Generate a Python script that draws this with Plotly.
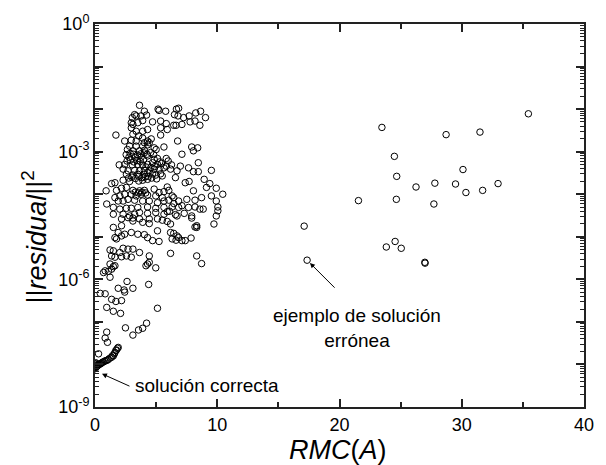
import plotly.graph_objects as go

# RMC(A) values and log10(||residual||^2) for each solution, grouped by region

# main cloud of solutions (RMC < ~11)
cloud_rmc = [
    3.64, 4.04, 5.16, 5.24, 5.78, 6.66, 6.84, 6.50, 6.79, 7.25, 7.70, 8.24, 8.64, 9.04,
    3.24, 3.05, 3.37, 3.77, 4.22, 4.71, 5.37, 5.83, 6.44, 6.63, 7.11, 7.78, 8.18, 8.58,
    2.97, 3.10, 3.50, 3.90, 2.97, 3.37, 3.90, 4.30, 5.37, 5.91,
    1.71, 3.10, 3.58, 5.37,
    2.43, 2.97, 3.37, 4.04, 4.44, 4.30, 6.76,
    2.83, 3.37, 3.90, 4.30, 4.84, 5.64, 7.91, 8.40, 8.05,
    3.10, 3.64, 4.04, 7.11,
    2.78, 3.29, 3.77, 4.30, 4.84, 5.11, 5.83, 5.99,
    1.98, 2.43, 3.05, 3.50, 3.90, 4.30, 4.71, 5.11, 5.45, 5.83, 6.26, 6.98, 7.65, 8.45,
    2.30, 2.70, 3.24, 3.64, 4.04, 4.44, 4.84, 5.24, 5.64, 6.18, 6.71, 8.05, 8.45, 9.52,
    2.57, 3.10, 3.50, 4.04, 4.30, 4.71, 4.97, 5.37, 6.58, 8.93,
    1.36, 1.63, 2.30, 2.83, 3.58, 3.90, 4.30, 5.91, 7.38, 7.70, 9.39,
    0.91, 1.76, 2.17, 2.57, 3.10, 3.64, 4.04, 4.84, 5.24, 5.64, 6.04, 6.44, 8.05, 9.12, 9.92,
    1.63, 2.03, 2.43, 2.97, 3.37, 3.77, 4.30, 4.97, 5.51, 6.31, 6.84, 7.51, 8.18, 8.72, 9.52, 10.45,
    1.90, 2.30, 2.70, 3.24, 3.90, 4.44, 5.11, 5.64, 6.04, 7.11, 7.65, 8.18, 8.58, 8.85, 9.92, 10.05,
    0.96, 1.50, 2.03, 2.57, 2.97, 3.50, 4.30, 4.97, 5.64, 6.31, 6.84, 7.91,
    1.50, 2.30, 2.83, 3.24, 3.64, 4.30, 4.97, 5.64, 5.91, 6.58, 10.05,
    2.17, 2.70, 3.10, 3.64, 4.44, 5.11, 5.51, 6.18, 6.71, 7.91, 8.32, 8.18, 9.92,
    1.50, 2.17, 3.10, 3.90, 4.44, 5.91, 9.73,
    1.90, 2.43, 2.97, 3.50, 4.04, 5.11, 6.18, 6.44, 6.71, 7.38, 7.86, 8.32,
    1.63, 1.76, 2.17, 4.30, 4.71, 5.24, 6.31, 6.63, 6.84, 7.11,
    1.23, 1.50, 2.03, 2.30, 2.70, 3.10, 3.64, 4.44, 6.18, 8.32,
    1.36, 1.63, 2.17, 2.57, 2.97,
    # denser core between 1e-3 and 1e-4
    2.62, 2.90, 3.17, 3.44, 3.71, 3.97, 4.17, 4.57, 4.90, 5.30, 2.75, 3.02, 3.31, 3.58,
    3.84, 4.11, 4.37, 4.64, 5.04, 5.50, 2.55, 2.88, 3.15, 3.47, 3.75, 4.02, 4.26, 4.55,
    4.80, 3.30, 3.55, 3.85, 4.15, 2.65, 3.90, 4.60, 5.00, 6.10, 6.45, 7.30,
]
cloud_logres = [
    -1.91, -2.05, -2.00, -2.03, -2.05, -2.00, -1.98, -2.13, -2.16, -2.20, -2.16, -2.09, -2.05, -2.20,
    -2.13, -2.20, -2.16, -2.16, -2.14, -2.30, -2.28, -2.34, -2.38, -2.38, -2.36, -2.30, -2.28, -2.38,
    -2.32, -2.36, -2.32, -2.27, -2.44, -2.52, -2.52, -2.48, -2.44, -2.48,
    -2.61, -2.59, -2.63, -2.61,
    -2.75, -2.73, -2.75, -2.79, -2.79, -2.75, -2.75,
    -2.87, -2.87, -2.87, -2.84, -2.91, -2.89, -2.89, -2.91, -2.98,
    -2.98, -2.98, -2.97, -3.06,
    -3.13, -3.14, -3.13, -3.10, -3.18, -3.16, -3.16, -3.22,
    -3.31, -3.30, -3.31, -3.30, -3.31, -3.30, -3.26, -3.30, -3.28, -3.34, -3.31, -3.34, -3.38, -3.26,
    -3.41, -3.45, -3.44, -3.45, -3.44, -3.45, -3.41, -3.41, -3.38, -3.41, -3.45, -3.47, -3.47, -3.44,
    -3.53, -3.55, -3.53, -3.53, -3.49, -3.52, -3.55, -3.52, -3.61, -3.65,
    -3.75, -3.73, -3.67, -3.70, -3.69, -3.67, -3.65, -3.83, -3.73, -3.70, -3.75,
    -3.92, -3.91, -3.86, -3.84, -3.91, -3.92, -3.91, -3.88, -3.96, -3.94, -3.91, -4.08, -3.92, -3.84, -3.86,
    -4.08, -4.04, -4.00, -4.00, -4.04, -4.00, -4.02, -4.04, -4.08, -4.04, -4.16, -4.12, -4.14, -4.08, -4.04, -4.00,
    -4.16, -4.16, -4.12, -4.14, -4.16, -4.16, -4.20, -4.16, -4.14, -4.27, -4.31, -4.30, -4.35, -4.35, -4.16, -4.30,
    -4.23, -4.31, -4.35, -4.33, -4.33, -4.31, -4.30, -4.33, -4.31, -4.30, -4.31, -4.51,
    -4.47, -4.47, -4.51, -4.47, -4.43, -4.45, -4.43, -4.47, -4.41, -4.48, -4.39,
    -4.58, -4.55, -4.56, -4.58, -4.58, -4.58, -4.61, -4.70, -4.51, -4.56, -4.74, -4.77, -4.51,
    -4.78, -4.74, -4.63, -4.66, -4.69, -4.64, -4.70,
    -4.90, -4.94, -4.90, -4.94, -4.95, -4.86, -4.90, -4.92, -4.98, -5.09, -5.03, -4.78,
    -5.02, -5.05, -4.98, -5.02, -5.09, -5.11, -5.05, -5.08, -5.02, -5.09,
    -5.31, -5.33, -5.37, -5.27, -5.29, -5.29, -5.37, -5.45, -5.39, -5.45,
    -5.45, -5.48, -5.47, -5.45, -5.48,
    -3.22, -3.20, -3.24, -3.21, -3.23, -3.19, -3.36, -3.37, -3.35, -3.24, -3.62, -3.60, -3.63, -3.58,
    -3.61, -3.59, -3.58, -3.62, -3.64, -3.57, -3.07, -3.04, -3.06, -3.08, -3.05, -3.03, -3.06, -3.02,
    -3.07, -3.95, -3.97, -3.95, -3.97, -2.95, -2.68, -2.70, -2.95, -4.40, -4.22, -4.45,
]

# lower tail of the cloud
tail_rmc = [
    8.72, 1.23, 0.70, 0.83, 1.10, 1.36, 1.50, 1.63, 1.23, 4.17, 4.30, 4.44, 4.97,
    0.43, 0.83, 1.90, 2.38, 2.43, 2.62, 3.10, 4.39,
    1.36, 1.71, 2.17, 0.96, 1.50, 2.09, 5.11,
    2.49, 3.10, 3.56, 3.90, 4.22,
    0.96, 0.83, 1.02, 0.29,
]
tail_logres = [
    -5.63, -5.64, -5.84, -5.80, -5.81, -5.76, -5.70, -5.68, -5.95, -5.68, -5.64, -5.60, -5.73,
    -6.33, -6.34, -6.21, -6.25, -6.30, -6.05, -6.21, -6.12,
    -6.47, -6.52, -6.50, -6.66, -6.75, -6.80, -6.68,
    -7.14, -7.31, -7.19, -7.15, -7.03,
    -7.24, -7.38, -7.48, -7.75,
]

# converged (correct) solutions
correct_rmc = [
    0.02, 0.03, 0.05, 0.08, 0.10, 0.13, 0.16, 0.20, 0.24, 0.29, 0.34, 0.40, 0.46,
    0.52, 0.60, 0.70, 0.80, 0.90, 1.00, 1.10, 1.23, 1.36, 1.44, 1.50, 1.58,
    1.63, 1.71, 1.76, 1.84, 1.90, 0.03, 0.05, 0.11, 0.02,
]
correct_logres = [
    -8.07, -8.06, -8.06, -8.05, -8.05, -8.04, -8.03, -8.03, -8.02, -8.01, -8.00, -7.99, -7.98,
    -7.97, -7.95, -7.94, -7.92, -7.91, -7.90, -7.88, -7.85, -7.83, -7.79, -7.80, -7.75,
    -7.72, -7.67, -7.66, -7.62, -7.60, -8.00, -7.96, -7.98, -8.10,
]

# isolated wrong solutions at large RMC
outlier_rmc = [
    35.45, 23.47, 28.72, 31.49, 24.49, 30.10, 24.68, 26.26, 27.80, 29.49, 30.34,
    31.71, 32.97, 21.55, 24.65, 27.72, 17.11, 24.55, 23.83, 25.05, 26.98, 27.00, 17.35,
]
outlier_logres = [
    -2.11, -2.43, -2.60, -2.54, -3.11, -3.42, -3.58, -3.83, -3.74, -3.76, -3.96,
    -3.91, -3.75, -4.15, -4.12, -4.23, -4.75, -5.11, -5.24, -5.27, -5.60, -5.62, -5.55,
]

# highlighted points for the annotations
wrong_example = (17.35, -5.55)
correct_example = (0.57, -8.22)

y_labels = {0: "10<sup>0</sup>", -3: "10<sup>-3</sup>", -6: "10<sup>-6</sup>", -9: "10<sup>-9</sup>"}

rmc = cloud_rmc + tail_rmc + correct_rmc + outlier_rmc
logres = cloud_logres + tail_logres + correct_logres + outlier_logres
residual = [10 ** e for e in logres]

FONT = "Liberation Sans, Arial, sans-serif"

fig = go.Figure()
fig.add_trace(go.Scatter(
    x=rmc, y=residual, mode="markers",
    marker=dict(symbol="circle-open", size=6.5, color="black", line=dict(width=1, color="black")),
    showlegend=False, hoverinfo="skip",
))

decades = list(range(0, -10, -1))
major_vals = [10.0 ** d for d in decades]
major_text = [y_labels.get(d, "") for d in decades]
minor_vals = [m * 10.0 ** d for d in range(-9, 0) for m in range(2, 10)]

axis_common = dict(
    showline=True, linecolor="#222", linewidth=2, mirror="allticks",
    ticks="inside", ticklen=8, tickwidth=1.5, tickcolor="#222",
    showgrid=False, zeroline=False,
    tickfont=dict(family=FONT, size=18, color="black"),
)

fig.update_xaxes(
    range=[0, 40], tickvals=[0, 10, 20, 30, 40],
    minor=dict(tickvals=[5, 15, 25, 35], ticks="inside", ticklen=5, tickwidth=1.5, tickcolor="#222"),
    **axis_common,
)
fig.update_yaxes(
    type="log", range=[-9, 0], tickvals=major_vals, ticktext=major_text,
    minor=dict(tickvals=minor_vals, ticks="inside", ticklen=4, tickwidth=1, tickcolor="#222"),
    **axis_common,
)

arrow_style = dict(showarrow=True, arrowhead=2, arrowsize=1, arrowwidth=1, arrowcolor="black",
                   text="", xref="x", yref="y")
fig.add_annotation(x=wrong_example[0], y=wrong_example[1], ax=29, ay=29, standoff=4, **arrow_style)
fig.add_annotation(x=correct_example[0], y=correct_example[1], ax=29, ay=13, standoff=0, **arrow_style)

fig.add_annotation(x=21.42, y=-7.14, xref="x", yref="y", showarrow=False,
                   xanchor="center", yanchor="middle",
                   text="ejemplo de solución<br>errónea", align="center",
                   font=dict(family=FONT, size=19, color="black"))
fig.add_annotation(x=3.08, y=-8.49, xref="x", yref="y", showarrow=False,
                   xanchor="left", yanchor="middle",
                   text="solución correcta", font=dict(family=FONT, size=19, color="black"))

fig.add_annotation(x=-0.125, y=0.445, xref="paper", yref="paper", showarrow=False,
                   xanchor="center", yanchor="middle",
                   text="||<i>residual</i>||<sup>2</sup>", textangle=-90,
                   font=dict(family=FONT, size=27, color="black"))
fig.add_annotation(x=0.497, y=-0.113, xref="paper", yref="paper", showarrow=False,
                   xanchor="center", yanchor="middle",
                   text="<i>RMC</i>(<i>A</i>)",
                   font=dict(family=FONT, size=27, color="black"))

fig.update_layout(
    width=606, height=465,
    margin=dict(l=95, r=12, t=23, b=58),
    paper_bgcolor="white", plot_bgcolor="white",
)

fig.write_html("out.html")
